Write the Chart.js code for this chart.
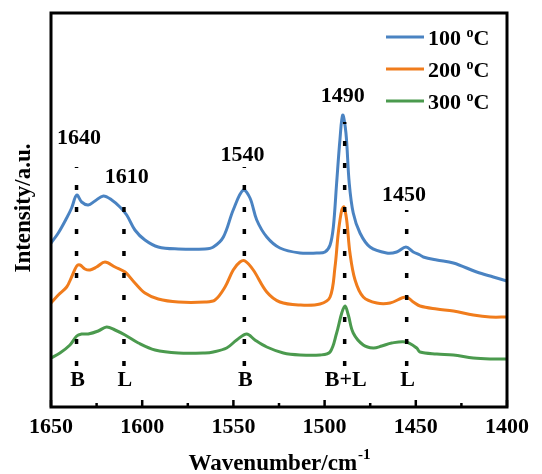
<!DOCTYPE html>
<html>
<head>
<meta charset="utf-8">
<script src="https://cdn.jsdelivr.net/npm/chart.js@4.4.0/dist/chart.umd.min.js"></script>
<style>
  html, body { margin: 0; padding: 0; background: #fff; }
  #wrap { width: 542px; height: 474px; }
</style>
</head>
<body>
<div id="wrap"><canvas id="irChart" width="542" height="474"></canvas></div>
<script>
// IR spectra of adsorbed pyridine, intensity in arbitrary units
const temps = ['100', '200', '300']
const colors = ['#4a83c2', '#f07c1c', '#4b9a4e']

const wn100 = [1650, 1646.0, 1641.4, 1638.7, 1635.9, 1633.2, 1629.6, 1625.9, 1621.3, 1616.7, 1612.2, 1608.5, 1604.0, 1598.5, 1591.2, 1580.2, 1565.6, 1561.0, 1555.5, 1550.1, 1544.6, 1540.9, 1537.2, 1531.7, 1524.5, 1513.5, 1504.3, 1499.8, 1497.0, 1495.2, 1493.4, 1491.6, 1490.1, 1488.3, 1486.5, 1484.3, 1480.6, 1475.1, 1466.0, 1460.5, 1455.4, 1451.4, 1447.7, 1445.9, 1438.5, 1429.4, 1416.6, 1407.5, 1400]
const int100 = [1.64, 1.74, 1.89, 1.99, 2.12, 2.05, 2.02, 2.06, 2.11, 2.07, 2.00, 1.92, 1.77, 1.67, 1.60, 1.58, 1.58, 1.60, 1.70, 1.97, 2.17, 2.09, 1.87, 1.70, 1.59, 1.54, 1.54, 1.55, 1.62, 1.80, 2.24, 2.67, 2.92, 2.74, 2.24, 1.94, 1.74, 1.60, 1.54, 1.55, 1.60, 1.55, 1.52, 1.50, 1.47, 1.44, 1.35, 1.30, 1.26]

const wn200 = [1650, 1646.0, 1641.4, 1638.7, 1635.9, 1634.1, 1631.4, 1628.6, 1625.0, 1620.4, 1614.9, 1609.4, 1604.0, 1598.5, 1591.2, 1580.2, 1565.6, 1560.1, 1554.6, 1550.1, 1546.4, 1543.6, 1539.1, 1531.7, 1524.5, 1513.5, 1502.5, 1497.0, 1494.3, 1492.5, 1490.6, 1489.4, 1487.9, 1486.1, 1483.3, 1478.8, 1471.4, 1464.1, 1455.4, 1451.4, 1447.7, 1438.5, 1429.4, 1418.5, 1409.3, 1400]
const int200 = [1.04, 1.12, 1.20, 1.30, 1.41, 1.42, 1.38, 1.37, 1.40, 1.45, 1.40, 1.35, 1.24, 1.14, 1.08, 1.05, 1.05, 1.07, 1.20, 1.37, 1.45, 1.46, 1.37, 1.15, 1.05, 1.02, 1.03, 1.10, 1.40, 1.74, 1.97, 2.00, 1.87, 1.54, 1.27, 1.10, 1.04, 1.04, 1.10, 1.05, 1.01, 0.98, 0.96, 0.92, 0.90, 0.90]

const wn300 = [1650, 1645.1, 1639.6, 1635.9, 1633.2, 1629.6, 1624.1, 1619.5, 1614.9, 1609.4, 1602.1, 1593.0, 1580.2, 1565.6, 1561.0, 1553.7, 1548.2, 1542.7, 1538.2, 1531.7, 1522.6, 1513.5, 1502.5, 1497.0, 1493.4, 1490.6, 1488.8, 1487.0, 1484.3, 1478.8, 1473.3, 1468.7, 1463.2, 1455.4, 1449.5, 1447.7, 1438.5, 1429.4, 1418.5, 1409.3, 1400]
const int300 = [0.49, 0.54, 0.62, 0.71, 0.73, 0.73, 0.76, 0.80, 0.77, 0.72, 0.64, 0.57, 0.54, 0.54, 0.55, 0.59, 0.67, 0.73, 0.67, 0.60, 0.54, 0.52, 0.52, 0.55, 0.74, 0.94, 1.01, 0.92, 0.74, 0.62, 0.59, 0.61, 0.64, 0.65, 0.59, 0.55, 0.53, 0.52, 0.49, 0.48, 0.48]

// band assignments (dotted markers)
const peakWn = [1636, 1610, 1544, 1489, 1455]
const peakNames = ['1640', '1610', '1540', '1490', '1450']
const siteNames = ['B', 'L', 'B', 'B+L', 'L']
const markerTop = [2.40, 2.00, 2.40, 2.85, 1.97]
const markerBottom = 0.41

const toPoints = (xs, ys) => xs.map((x, i) => ({ x: x, y: ys[i] }))
const spectra = [toPoints(wn100, int100), toPoints(wn200, int200), toPoints(wn300, int300)]

const serif = '"Liberation Serif", "Times New Roman", serif'

const decor = {
  id: 'decor',
  afterDatasetsDraw(chart, args, opts) {
    const { ctx, chartArea: a, scales: { x, y } } = chart
    ctx.save()
    ctx.strokeStyle = '#000'
    ctx.fillStyle = '#000'
    ctx.lineWidth = 3
    ctx.strokeRect(a.left, a.top, a.right - a.left, a.bottom - a.top)

    // inward tick marks
    ctx.lineWidth = 2.5
    x.ticks.forEach((t) => {
      const px = x.getPixelForValue(t.value)
      const len = t.value % 50 === 0 ? 7 : 4
      ctx.beginPath()
      ctx.moveTo(px, a.bottom)
      ctx.lineTo(px, a.bottom - len)
      ctx.stroke()
    })

    // peak + site labels
    ctx.font = 'bold 22px ' + serif
    ctx.textAlign = 'center'
    ctx.textBaseline = 'middle'
    peakNames.forEach((s, i) => {
      const p = opts.peakLabelAt[i]
      ctx.fillText(s, x.getPixelForValue(p[0]), y.getPixelForValue(p[1]))
    })
    siteNames.forEach((s, i) => {
      ctx.fillText(s, x.getPixelForValue(peakWn[i]) + 1, y.getPixelForValue(opts.siteLabelY))
    })

    // legend
    temps.forEach((t, i) => {
      const ly = a.top + 24 + i * 32
      ctx.strokeStyle = colors[i]
      ctx.lineWidth = 3
      ctx.beginPath()
      ctx.moveTo(a.right - 121, ly)
      ctx.lineTo(a.right - 83, ly)
      ctx.stroke()
      ctx.textAlign = 'left'
      ctx.textBaseline = 'alphabetic'
      ctx.font = 'bold 22px ' + serif
      let tx = a.right - 79
      const base = ly + 8
      ctx.fillText(t + ' ', tx, base)
      tx += ctx.measureText(t + ' ').width
      ctx.font = 'bold 14px ' + serif
      ctx.fillText('o', tx, base - 8)
      tx += ctx.measureText('o').width
      ctx.font = 'bold 22px ' + serif
      ctx.fillText('C', tx, base)
    })

    // axis titles
    ctx.fillStyle = '#000'
    ctx.font = 'bold 23px ' + serif
    const main = 'Wavenumber/cm'
    const mw = ctx.measureText(main).width
    ctx.font = 'bold 15px ' + serif
    const sw = ctx.measureText('-1').width
    let sx = (a.left + a.right) / 2 - (mw + sw) / 2
    ctx.textAlign = 'left'
    ctx.textBaseline = 'alphabetic'
    ctx.font = 'bold 23px ' + serif
    ctx.fillText(main, sx, 470)
    ctx.font = 'bold 15px ' + serif
    ctx.fillText('-1', sx + mw + 1, 459)

    ctx.translate(24, (a.top + a.bottom) / 2 - 2)
    ctx.rotate(-Math.PI / 2)
    ctx.font = 'bold 23px ' + serif
    ctx.textAlign = 'center'
    ctx.textBaseline = 'middle'
    ctx.fillText('Intensity/a.u.', 0, 0)
    ctx.restore()
  }
}

const datasets = spectra.map((pts, i) => ({
  label: temps[i] + ' \u00B0C',
  data: pts,
  borderColor: colors[i],
  borderWidth: 3,
  pointRadius: 0,
  tension: 0.35,
  order: 2
}))

peakWn.forEach((w, i) => {
  datasets.push({
    label: peakNames[i],
    data: [{ x: w, y: markerBottom }, { x: w, y: markerTop[i] }],
    borderColor: '#000',
    borderWidth: 3.5,
    borderDash: [5, 17],
    pointRadius: 0,
    order: 1
  })
})

const canvas = document.getElementById('irChart')
new Chart(canvas.getContext('2d'), {
  type: 'line',
  data: { datasets: datasets },
  options: {
    responsive: false,
    animation: false,
    devicePixelRatio: 1,
    layout: { padding: { left: 51, right: 35, top: 13, bottom: 0 } },
    plugins: {
      legend: { display: false },
      tooltip: { enabled: false },
      decor: {
        peakLabelAt: [[1634.6, 2.69], [1608.5, 2.30], [1545, 2.52], [1490, 3.11], [1456.5, 2.12]],
        siteLabelY: 0.27
      }
    },
    scales: {
      x: {
        type: 'linear',
        reverse: true,
        min: 1400,
        max: 1650,
        afterFit: (scale) => { scale.height = 67 },
        grid: { display: false, drawTicks: false },
        border: { display: false },
        ticks: {
          stepSize: 25,
          autoSkip: false,
          maxRotation: 0,
          padding: 7,
          color: '#000',
          font: { family: serif, size: 22, weight: 'bold' },
          callback: (v) => (v % 50 === 0 ? String(v) : '')
        }
      },
      y: {
        display: false,
        min: 0,
        max: 3.94
      }
    }
  },
  plugins: [decor]
})
</script>
</body>
</html>
